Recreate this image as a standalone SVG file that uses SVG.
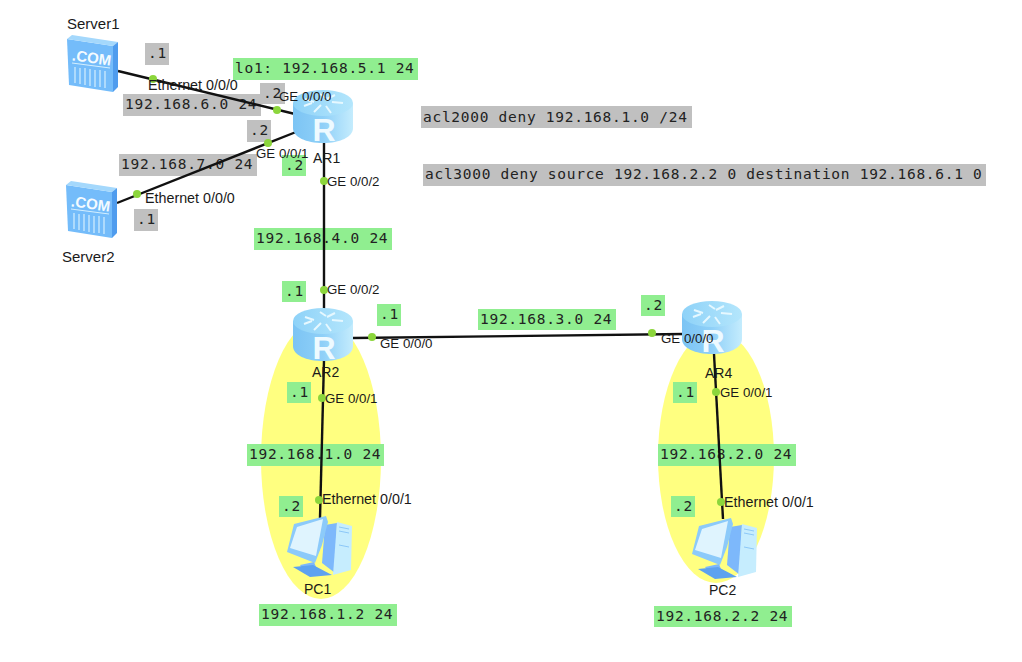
<svg xmlns="http://www.w3.org/2000/svg" xmlns:xlink="http://www.w3.org/1999/xlink" width="1022" height="662" viewBox="0 0 1022 662">
<style>
.lab{font:14px "Liberation Sans",Arial,sans-serif;fill:#1a1a1a}
.ge{font:13.3px "Liberation Sans",Arial,sans-serif;fill:#1a1a1a}
.et{font:14.3px "Liberation Sans",Arial,sans-serif;fill:#1a1a1a}
.nm{font:15px "Liberation Sans",Arial,sans-serif;fill:#1a1a1a}
.m{font:14.5px "DejaVu Sans Mono",monospace;fill:#222;letter-spacing:.72px}
.g{fill:#90ee90}
.k{fill:#c0c0c0}
.c{fill:none;stroke:#111;stroke-width:2.4}
.d{fill:#8cd63c}
.y{fill:#ffff80}
</style>
<defs>
<linearGradient id="rb" x1="0" x2="1" y1="0" y2="0"><stop offset="0" stop-color="#7cc4f4"/><stop offset=".5" stop-color="#8fd0f8"/><stop offset="1" stop-color="#c4ecfd"/></linearGradient>
<linearGradient id="rt" x1="0" x2="1" y1="0" y2="0"><stop offset="0" stop-color="#8ed2f8"/><stop offset="1" stop-color="#b4e6fc"/></linearGradient>
<g id="router">
<path d="M0 13V38C0 47 13 53 30 53S60 47 60 38V13Z" fill="url(#rb)"/>
<ellipse cx="30" cy="13" rx="30" ry="13" fill="url(#rt)"/>
<path d="M12 9l9 3M27 4l6 4M42 5l-8 4M50 13l-11-1M21 22l7-7M38 23l-5-7M11 16l8-3" stroke="#e6f8ff" stroke-width="2" fill="none"/>
<text x="31" y="51" text-anchor="middle" style="font:bold 32px 'Liberation Sans',sans-serif;fill:#eefaff">R</text>
</g>
<g id="server">
<path d="M-1 4L45 11V57L1 50Z" fill="#74bcfa"/>
<path d="M4 0L50 7L45 11L-1 4Z" fill="#a4d8fc"/>
<path d="M45 11L50 7V52L45 57Z" fill="#4f9cee"/>
<text x="23" y="28" text-anchor="middle" transform="rotate(8 23 28)" style="font:bold 15px 'Liberation Sans',sans-serif;fill:#f4fbff">.COM</text>
<path d="M4 28L42 33" stroke="#d4effe" stroke-width="1"/>
<path d="M7 32V48M12 33V49M17 33V50M22 34V51M27 35V52M32 35V52M37 36V53" stroke="#cdeafd" stroke-width="1.3"/>
</g>
<g id="pc">
<path d="M40 10L52 8L50 58L37 48Z" fill="#7db8fb"/>
<path d="M52 7L67 11L66 55L48 60Z" fill="#c6edfe"/>
<path d="M54 12L64 14M54 16L64 18M54 30L64 32" stroke="#8cc8f8" stroke-width="1"/>
<path d="M15 50L29 47L33 57L19 56Z" fill="#7db8fb"/>
<path d="M8 52L28 50L47 60L25 62Z" fill="#5da2f0"/>
<path d="M9 9L41 1L43 7L37 30L30 48L2 37Z" fill="#8ccafa"/>
<path d="M12 12L38 4L31 41L5 33Z" fill="#dff4fe"/>
</g>
</defs>
<rect width="1022" height="662" fill="#fff"/>
<g id="zones">
<ellipse class="y" cx="321" cy="459" rx="60" ry="140"/>
<ellipse class="y" cx="716" cy="457" rx="58" ry="126"/>
</g>
<g id="labels">
<g id="l1"><rect class="k" x="145" y="43" width="24" height="22"/><text class="m" x="148" y="58">.1</text></g>
<g id="l2"><rect class="g" x="233" y="58" width="185" height="22"/><text class="m" x="235" y="73">lo1: 192.168.5.1 24</text></g>
<g id="l3"><rect class="k" x="123" y="94" width="138" height="22"/><text class="m" x="125" y="109">192.168.6.0 24</text></g>
<g id="l4"><rect class="k" x="260" y="83" width="25" height="21"/><text class="m" x="263" y="98">.2</text></g>
<g id="l5"><rect class="k" x="247" y="120" width="24" height="22"/><text class="m" x="250" y="135">.2</text></g>
<g id="l6"><rect class="k" x="119" y="154" width="138" height="22"/><text class="m" x="121" y="169">192.168.7.0 24</text></g>
<g id="l7"><rect class="g" x="282" y="155" width="24" height="21"/><text class="m" x="285" y="170">.2</text></g>
<g id="l8"><rect class="k" x="134" y="209" width="24" height="22"/><text class="m" x="137" y="224">.1</text></g>
<g id="l9"><rect class="g" x="254" y="228" width="138" height="22"/><text class="m" x="256" y="243">192.168.4.0 24</text></g>
<g id="l10"><rect class="k" x="421" y="106" width="271" height="22"/><text class="m" x="423" y="122">acl2000 deny 192.168.1.0 /24</text></g>
<g id="l11"><rect class="k" x="423" y="164" width="563" height="22"/><text class="m" x="425" y="179">acl3000 deny source 192.168.2.2 0 destination 192.168.6.1 0</text></g>
<g id="l12"><rect class="g" x="282" y="281" width="24" height="21"/><text class="m" x="285" y="296">.1</text></g>
<g id="l13"><rect class="g" x="377" y="304" width="24" height="22"/><text class="m" x="380" y="319">.1</text></g>
<g id="l14"><rect class="g" x="478" y="309" width="138" height="21"/><text class="m" x="480" y="324">192.168.3.0 24</text></g>
<g id="l15"><rect class="g" x="641" y="295" width="24" height="21"/><text class="m" x="644" y="310">.2</text></g>
<g id="l16"><rect class="g" x="287" y="382" width="24" height="21"/><text class="m" x="290" y="397">.1</text></g>
<g id="l17"><rect class="g" x="247" y="444" width="137" height="22"/><text class="m" x="249" y="459">192.168.1.0 24</text></g>
<g id="l18"><rect class="g" x="279" y="496" width="24" height="21"/><text class="m" x="282" y="511">.2</text></g>
<g id="l19"><rect class="g" x="259" y="604" width="138" height="22"/><text class="m" x="261" y="619">192.168.1.2 24</text></g>
<g id="l20"><rect class="g" x="673" y="382" width="24" height="21"/><text class="m" x="676" y="397">.1</text></g>
<g id="l21"><rect class="g" x="658" y="444" width="138" height="22"/><text class="m" x="660" y="459">192.168.2.0 24</text></g>
<g id="l22"><rect class="g" x="671" y="496" width="24" height="21"/><text class="m" x="674" y="511">.2</text></g>
<g id="l23"><rect class="g" x="654" y="606" width="138" height="21"/><text class="m" x="656" y="621">192.168.2.2 24</text></g>
</g>
<g id="connectors">
<path class="c" d="M118 71L295 114"/>
<path class="c" d="M117 203L296 132"/>
<path class="c" d="M324 143V310"/>
<path class="c" d="M353 338L684 334"/>
<path class="c" d="M324 360L320 518"/>
<path class="c" d="M714 354L723 519"/>
<circle class="d" cx="153" cy="79" r="4"/>
<circle class="d" cx="277" cy="110" r="4"/>
<circle class="d" cx="268" cy="143" r="4"/>
<circle class="d" cx="137" cy="194" r="4"/>
<circle class="d" cx="324" cy="181" r="4"/>
<circle class="d" cx="324" cy="290" r="4"/>
<circle class="d" cx="372" cy="337" r="4"/>
<circle class="d" cx="652" cy="333" r="4"/>
<circle class="d" cx="322" cy="398" r="4"/>
<circle class="d" cx="319" cy="500" r="4"/>
<circle class="d" cx="716" cy="392" r="4"/>
<circle class="d" cx="721" cy="502" r="4"/>
</g>
<g id="Server1"><use href="#server" x="68" y="35"/><text class="nm" x="67" y="29">Server1</text></g>
<g id="Server2"><use href="#server" x="67" y="181"/><text class="nm" x="62" y="262">Server2</text></g>
<g id="AR1"><use href="#router" x="293" y="90"/><text class="lab" x="313" y="163">AR1</text></g>
<g id="AR2"><use href="#router" x="293" y="308"/><text class="lab" x="312" y="377">AR2</text></g>
<g id="AR4"><use href="#router" x="682" y="301"/><text class="lab" x="705" y="378">AR4</text></g>
<g id="PC1"><use href="#pc" x="285" y="515"/><text class="lab" x="304" y="594">PC1</text></g>
<g id="PC2"><use href="#pc" x="690" y="517"/><text class="lab" x="709" y="595">PC2</text></g>
<g id="ports">
<text class="et" x="148" y="90">Ethernet 0/0/0</text>
<text class="ge" x="279" y="101">GE 0/0/0</text>
<text class="ge" x="256" y="158">GE 0/0/1</text>
<text class="ge" x="327" y="186">GE 0/0/2</text>
<text class="et" x="145" y="203">Ethernet 0/0/0</text>
<text class="ge" x="327" y="294">GE 0/0/2</text>
<text class="ge" x="380" y="348">GE 0/0/0</text>
<text class="ge" x="325" y="403">GE 0/0/1</text>
<text class="et" x="322" y="504">Ethernet 0/0/1</text>
<text class="ge" x="661" y="343">GE 0/0/0</text>
<text class="ge" x="720" y="397">GE 0/0/1</text>
<text class="et" x="724" y="507">Ethernet 0/0/1</text>
</g>
</svg>
